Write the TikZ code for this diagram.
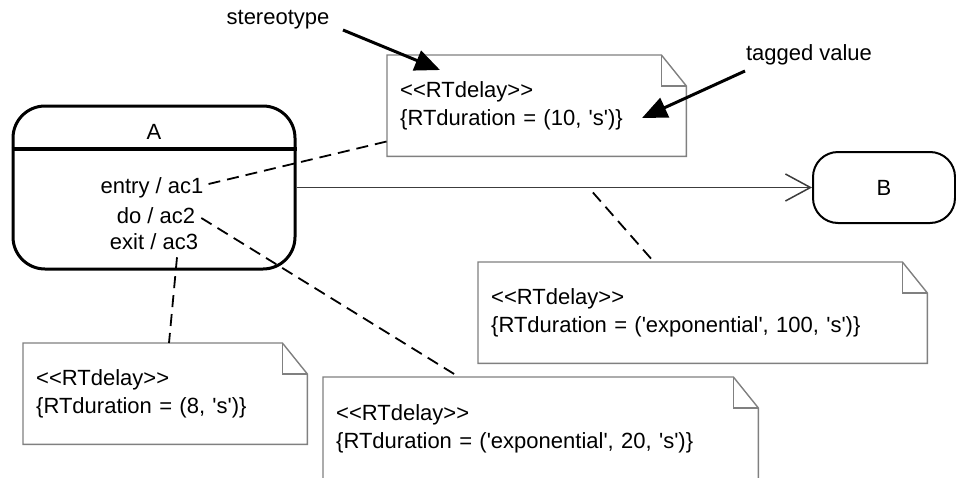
\documentclass[tikz,border=0pt]{standalone}
\usepackage{fontspec}
\setmainfont{Liberation Sans}[Ligatures=TeXOff]
\usetikzlibrary{arrows.meta,calc}
\definecolor{notegray}{RGB}{128,128,128}
\definecolor{linegray}{RGB}{60,60,60}
\newcommand\umlnote[1]{%
  \draw[noteline] (#1.north west) -- ([xshift=-25pt]#1.north east) -- ([yshift=-31pt]#1.north east) -- (#1.south east) -- (#1.south west) -- cycle;
  \draw[noteline] ([xshift=-25pt]#1.north east) |- ([yshift=-31pt]#1.north east);}
\begin{document}
\begin{tikzpicture}[x=1pt,y=-1pt,
  txt/.style={font=\fontsize{22}{27}\selectfont, inner sep=0pt},
  notebox/.style={rectangle, inner xsep=13pt, inner ysep=0pt, minimum height=101pt,
    text width=#1, align=left, anchor=north west, font=\fontsize{22}{28}\selectfont},
  noteline/.style={draw=notegray, line width=1.4pt},
  statebox/.style={draw, line width=3pt, rounded corners=32pt},
  dashline/.style={draw, line width=1.8pt, dash pattern=on 12pt off 7pt},
  callout/.style={line width=3pt, -{Triangle[length=25pt,width=21pt]}},
  transition/.style={draw=linegray, line width=1.5pt, -{Straight Barb[length=25pt,width=27pt]}}]
\useasboundingbox (0,0) rectangle (956,477);
\clip (0,0) rectangle (956,477);

% state A
\node[statebox, minimum width=282pt, minimum height=163pt] (A) at (154,187.5) {};
\draw[line width=4pt] (A.west |- 0,149) -- (A.east |- 0,149);
\node[txt] (Aname) at (154,132) {A};
\node[txt] (entry) at (152,188) {entry / ac1};
\node[txt] (doact) at (156,216) {do / ac2};
\node[txt] (exitact) at (154,242) {exit / ac3};

% state B
\node[draw, line width=2pt, rounded corners=25pt, minimum width=142pt, minimum height=71pt,
  font=\fontsize{22}{27}\selectfont] (B) at (884,187.5) {B};

% transition
\draw[transition] (A.east) -- (B.west);
\coordinate (t) at ($(A.east)!0.575!(B.west)+(0,5)$);

% notes
\node[notebox=273pt] (n1) at (387,55) {<<RTdelay>>\\\{RTduration = (10, 's')\}};
\node[notebox=423pt] (n2) at (478,262) {<<RTdelay>>\\\{RTduration = ('exponential', 100, 's')\}};
\node[notebox=258pt] (n3) at (23,343) {<<RTdelay>>\\\{RTduration = (8, 's')\}};
\node[notebox=409pt, minimum height=103pt] (n4) at (323,377) {<<RTdelay>>\\\{RTduration = ('exponential', 20, 's')\}};
\umlnote{n1}
\umlnote{n2}
\umlnote{n3}
\umlnote{n4}

% dashed anchors
\draw[dashline] ([xshift=5pt,yshift=4pt]entry.east) -- ([yshift=15pt]n1.south west);
\draw[dashline] ([xshift=6pt,yshift=-2pt]doact.east) -- ([xshift=136pt]n4.north west);
\draw[dashline] ([xshift=23pt,yshift=-7pt]exitact.south) -- ([xshift=146pt]n3.north west);
\draw[dashline] (t) -- ([xshift=176pt]n2.north west);

% callouts
\node[txt] (st) at (278,20) {stereotype};
\node[txt] (tv) at (809,55) {tagged value};
\coordinate (stS) at (343,30);
\coordinate (stT) at (440,70);
\coordinate (tvS) at (745,71);
\coordinate (tvT) at (642,118);
\draw[callout] (stS) -- (stT);
\draw[callout] (tvS) -- (tvT);
\end{tikzpicture}
\end{document}
